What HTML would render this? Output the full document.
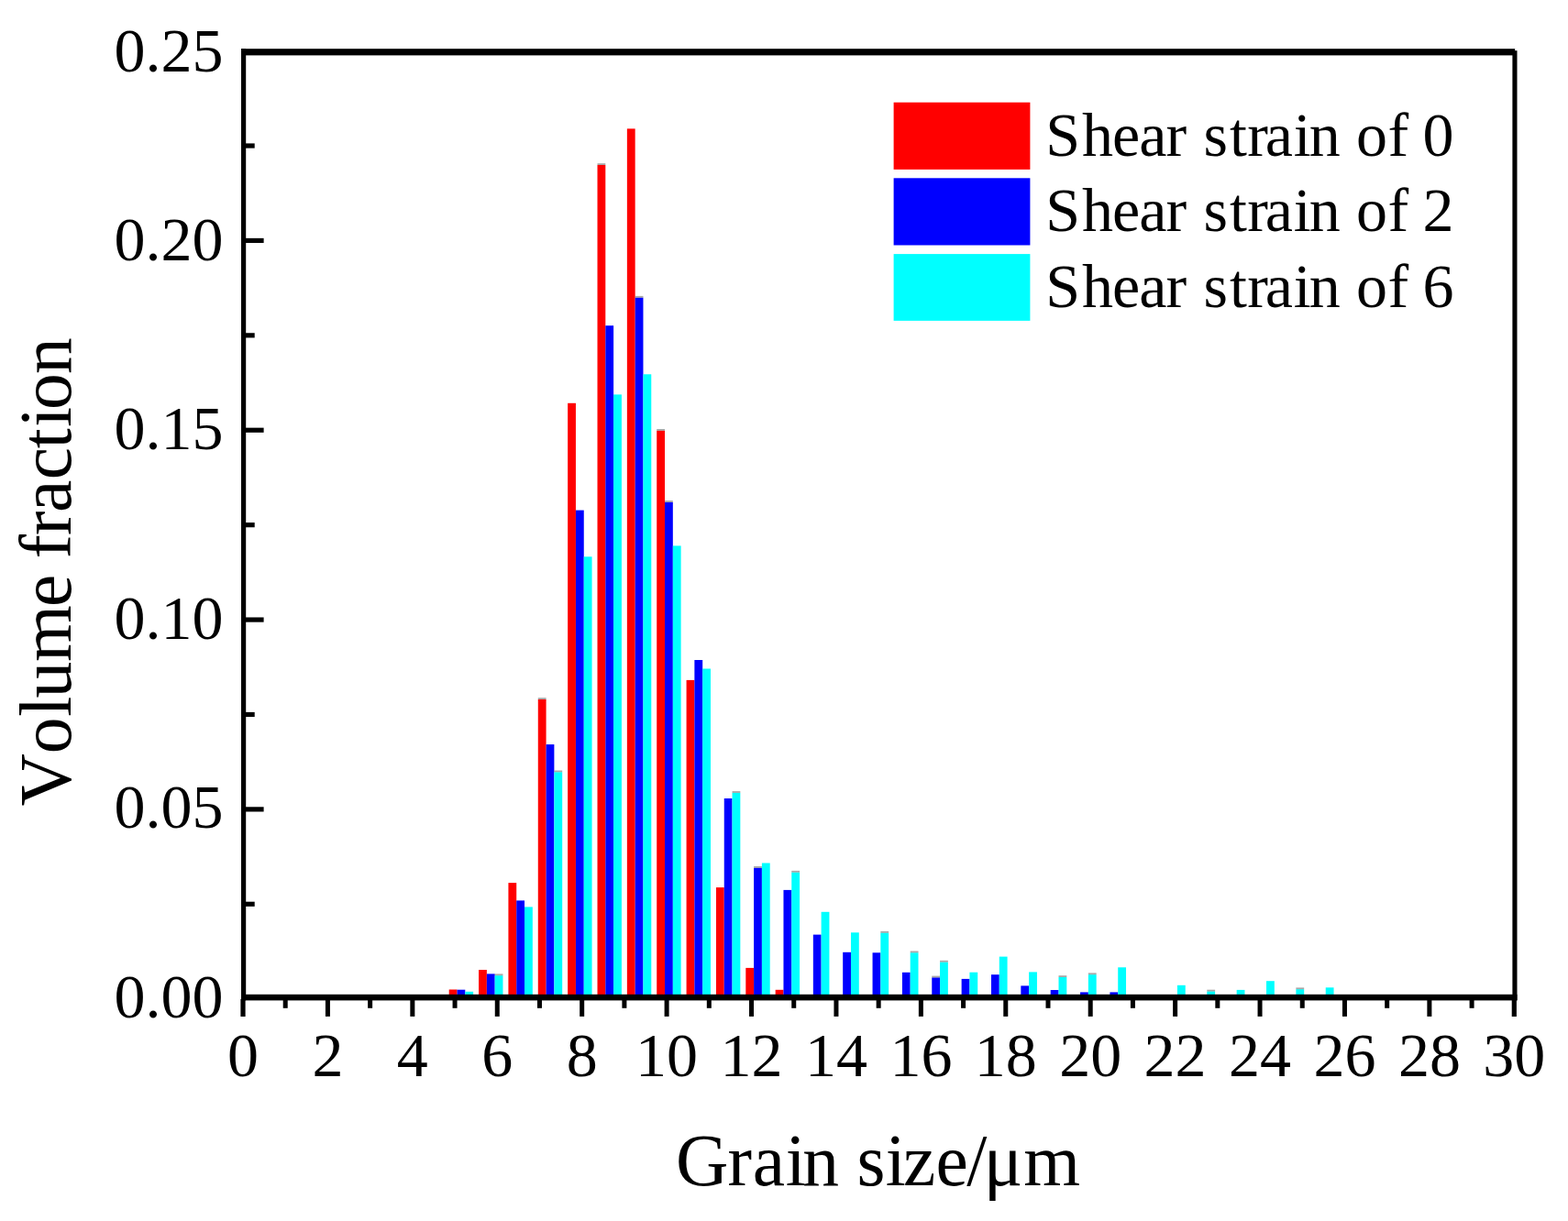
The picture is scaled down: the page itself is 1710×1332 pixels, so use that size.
<!DOCTYPE html>
<html><head><meta charset="utf-8"><title>Grain size distribution</title>
<style>html,body{margin:0;padding:0;background:#fff;}svg{display:block;filter:blur(0.5px);}</style></head>
<body><svg width="1710" height="1332" viewBox="0 0 1710 1332">
<rect width="1710" height="1332" fill="#fff"/>
<rect x="489.70" y="1079.50" width="8.80" height="7.50" fill="#ff0000"/>
<rect x="498.50" y="1079.70" width="8.80" height="7.30" fill="#0000ff"/>
<rect x="507.30" y="1081.80" width="8.80" height="5.20" fill="#00ffff"/>
<rect x="522.06" y="1058.00" width="8.80" height="29.00" fill="#ff0000"/>
<rect x="530.86" y="1062.40" width="8.80" height="24.60" fill="#0000ff"/>
<rect x="539.66" y="1064.20" width="8.80" height="22.80" fill="#00ffff"/>
<rect x="539.66" y="1062.40" width="8.80" height="1.8" fill="#6e6e6e" fill-opacity="0.6"/>
<rect x="554.42" y="963.10" width="8.80" height="123.90" fill="#ff0000"/>
<rect x="563.22" y="982.40" width="8.80" height="104.60" fill="#0000ff"/>
<rect x="572.02" y="989.40" width="8.80" height="97.60" fill="#00ffff"/>
<rect x="586.78" y="763.00" width="8.80" height="324.00" fill="#ff0000"/>
<rect x="586.78" y="761.20" width="8.80" height="1.8" fill="#6e6e6e" fill-opacity="0.6"/>
<rect x="595.58" y="812.10" width="8.80" height="274.90" fill="#0000ff"/>
<rect x="604.38" y="842.30" width="8.80" height="244.70" fill="#00ffff"/>
<rect x="604.38" y="840.50" width="8.80" height="1.8" fill="#6e6e6e" fill-opacity="0.6"/>
<rect x="619.14" y="439.80" width="8.80" height="647.20" fill="#ff0000"/>
<rect x="627.94" y="556.60" width="8.80" height="530.40" fill="#0000ff"/>
<rect x="636.74" y="607.30" width="8.80" height="479.70" fill="#00ffff"/>
<rect x="651.50" y="180.00" width="8.80" height="907.00" fill="#ff0000"/>
<rect x="651.50" y="178.20" width="8.80" height="1.8" fill="#6e6e6e" fill-opacity="0.6"/>
<rect x="660.30" y="355.20" width="8.80" height="731.80" fill="#0000ff"/>
<rect x="669.10" y="430.40" width="8.80" height="656.60" fill="#00ffff"/>
<rect x="683.86" y="140.40" width="8.80" height="946.60" fill="#ff0000"/>
<rect x="692.66" y="324.70" width="8.80" height="762.30" fill="#0000ff"/>
<rect x="692.66" y="322.90" width="8.80" height="1.8" fill="#6e6e6e" fill-opacity="0.6"/>
<rect x="701.46" y="408.30" width="8.80" height="678.70" fill="#00ffff"/>
<rect x="716.22" y="469.80" width="8.80" height="617.20" fill="#ff0000"/>
<rect x="716.22" y="468.00" width="8.80" height="1.8" fill="#6e6e6e" fill-opacity="0.6"/>
<rect x="725.02" y="547.90" width="8.80" height="539.10" fill="#0000ff"/>
<rect x="725.02" y="546.10" width="8.80" height="1.8" fill="#6e6e6e" fill-opacity="0.6"/>
<rect x="733.82" y="595.40" width="8.80" height="491.60" fill="#00ffff"/>
<rect x="748.58" y="741.90" width="8.80" height="345.10" fill="#ff0000"/>
<rect x="757.38" y="720.00" width="8.80" height="367.00" fill="#0000ff"/>
<rect x="766.18" y="729.50" width="8.80" height="357.50" fill="#00ffff"/>
<rect x="780.94" y="968.10" width="8.80" height="118.90" fill="#ff0000"/>
<rect x="789.74" y="871.00" width="8.80" height="216.00" fill="#0000ff"/>
<rect x="798.54" y="864.90" width="8.80" height="222.10" fill="#00ffff"/>
<rect x="798.54" y="863.10" width="8.80" height="1.8" fill="#6e6e6e" fill-opacity="0.6"/>
<rect x="813.30" y="1055.90" width="8.80" height="31.10" fill="#ff0000"/>
<rect x="822.10" y="946.80" width="8.80" height="140.20" fill="#0000ff"/>
<rect x="822.10" y="945.00" width="8.80" height="1.8" fill="#6e6e6e" fill-opacity="0.6"/>
<rect x="830.90" y="941.50" width="8.80" height="145.50" fill="#00ffff"/>
<rect x="845.66" y="1079.80" width="8.80" height="7.20" fill="#ff0000"/>
<rect x="854.46" y="970.90" width="8.80" height="116.10" fill="#0000ff"/>
<rect x="863.26" y="951.70" width="8.80" height="135.30" fill="#00ffff"/>
<rect x="863.26" y="949.90" width="8.80" height="1.8" fill="#6e6e6e" fill-opacity="0.6"/>
<rect x="886.82" y="1019.60" width="8.80" height="67.40" fill="#0000ff"/>
<rect x="895.62" y="994.80" width="8.80" height="92.20" fill="#00ffff"/>
<rect x="919.18" y="1038.80" width="8.80" height="48.20" fill="#0000ff"/>
<rect x="927.98" y="1017.30" width="8.80" height="69.70" fill="#00ffff"/>
<rect x="951.54" y="1039.30" width="8.80" height="47.70" fill="#0000ff"/>
<rect x="960.34" y="1017.70" width="8.80" height="69.30" fill="#00ffff"/>
<rect x="960.34" y="1015.90" width="8.80" height="1.8" fill="#6e6e6e" fill-opacity="0.6"/>
<rect x="983.90" y="1060.80" width="8.80" height="26.20" fill="#0000ff"/>
<rect x="992.70" y="1039.30" width="8.80" height="47.70" fill="#00ffff"/>
<rect x="992.70" y="1037.50" width="8.80" height="1.8" fill="#6e6e6e" fill-opacity="0.6"/>
<rect x="1016.26" y="1066.40" width="8.80" height="20.60" fill="#0000ff"/>
<rect x="1016.26" y="1064.60" width="8.80" height="1.8" fill="#6e6e6e" fill-opacity="0.6"/>
<rect x="1025.06" y="1049.60" width="8.80" height="37.40" fill="#00ffff"/>
<rect x="1025.06" y="1047.80" width="8.80" height="1.8" fill="#6e6e6e" fill-opacity="0.6"/>
<rect x="1048.62" y="1067.90" width="8.80" height="19.10" fill="#0000ff"/>
<rect x="1057.42" y="1060.70" width="8.80" height="26.30" fill="#00ffff"/>
<rect x="1080.98" y="1063.20" width="8.80" height="23.80" fill="#0000ff"/>
<rect x="1089.78" y="1043.60" width="8.80" height="43.40" fill="#00ffff"/>
<rect x="1113.34" y="1075.40" width="8.80" height="11.60" fill="#0000ff"/>
<rect x="1122.14" y="1060.40" width="8.80" height="26.60" fill="#00ffff"/>
<rect x="1145.70" y="1080.00" width="8.80" height="7.00" fill="#0000ff"/>
<rect x="1154.50" y="1066.00" width="8.80" height="21.00" fill="#00ffff"/>
<rect x="1154.50" y="1064.20" width="8.80" height="1.8" fill="#6e6e6e" fill-opacity="0.6"/>
<rect x="1178.06" y="1082.40" width="8.80" height="4.60" fill="#0000ff"/>
<rect x="1186.86" y="1063.20" width="8.80" height="23.80" fill="#00ffff"/>
<rect x="1186.86" y="1061.40" width="8.80" height="1.8" fill="#6e6e6e" fill-opacity="0.6"/>
<rect x="1210.42" y="1082.40" width="8.80" height="4.60" fill="#0000ff"/>
<rect x="1219.22" y="1055.30" width="8.80" height="31.70" fill="#00ffff"/>
<rect x="1283.94" y="1074.80" width="8.80" height="12.20" fill="#00ffff"/>
<rect x="1316.30" y="1081.50" width="8.80" height="5.50" fill="#00ffff"/>
<rect x="1316.30" y="1079.70" width="8.80" height="1.8" fill="#6e6e6e" fill-opacity="0.6"/>
<rect x="1348.66" y="1079.90" width="8.80" height="7.10" fill="#00ffff"/>
<rect x="1381.02" y="1070.20" width="8.80" height="16.80" fill="#00ffff"/>
<rect x="1413.38" y="1079.20" width="8.80" height="7.80" fill="#00ffff"/>
<rect x="1413.38" y="1077.40" width="8.80" height="1.8" fill="#6e6e6e" fill-opacity="0.6"/>
<rect x="1445.74" y="1077.30" width="8.80" height="9.70" fill="#00ffff"/>
<rect x="263" y="53.2" width="1389.2" height="7.2" fill="#000"/>
<rect x="263" y="1084.8" width="1391.5" height="6.6" fill="#000"/>
<rect x="263" y="53.2" width="5.2" height="1038.2" fill="#000"/>
<rect x="1649.4" y="55.2" width="5.1" height="1036.2" fill="#000"/>
<rect x="262.40" y="1090" width="5.2" height="19" fill="#000"/>
<rect x="308.71" y="1090" width="5.0" height="9.80" fill="#000"/>
<rect x="354.92" y="1090" width="5.0" height="18.90" fill="#000"/>
<rect x="401.13" y="1090" width="5.0" height="9.80" fill="#000"/>
<rect x="447.34" y="1090" width="5.0" height="18.90" fill="#000"/>
<rect x="493.55" y="1090" width="5.0" height="9.80" fill="#000"/>
<rect x="539.76" y="1090" width="5.0" height="18.90" fill="#000"/>
<rect x="585.97" y="1090" width="5.0" height="9.80" fill="#000"/>
<rect x="632.18" y="1090" width="5.0" height="18.90" fill="#000"/>
<rect x="678.39" y="1090" width="5.0" height="9.80" fill="#000"/>
<rect x="724.60" y="1090" width="5.0" height="18.90" fill="#000"/>
<rect x="770.81" y="1090" width="5.0" height="9.80" fill="#000"/>
<rect x="817.02" y="1090" width="5.0" height="18.90" fill="#000"/>
<rect x="863.23" y="1090" width="5.0" height="9.80" fill="#000"/>
<rect x="909.44" y="1090" width="5.0" height="18.90" fill="#000"/>
<rect x="955.65" y="1090" width="5.0" height="9.80" fill="#000"/>
<rect x="1001.86" y="1090" width="5.0" height="18.90" fill="#000"/>
<rect x="1048.07" y="1090" width="5.0" height="9.80" fill="#000"/>
<rect x="1094.28" y="1090" width="5.0" height="18.90" fill="#000"/>
<rect x="1140.49" y="1090" width="5.0" height="9.80" fill="#000"/>
<rect x="1186.70" y="1090" width="5.0" height="18.90" fill="#000"/>
<rect x="1232.91" y="1090" width="5.0" height="9.80" fill="#000"/>
<rect x="1279.12" y="1090" width="5.0" height="18.90" fill="#000"/>
<rect x="1325.33" y="1090" width="5.0" height="9.80" fill="#000"/>
<rect x="1371.54" y="1090" width="5.0" height="18.90" fill="#000"/>
<rect x="1417.75" y="1090" width="5.0" height="9.80" fill="#000"/>
<rect x="1463.96" y="1090" width="5.0" height="18.90" fill="#000"/>
<rect x="1510.17" y="1090" width="5.0" height="9.80" fill="#000"/>
<rect x="1556.38" y="1090" width="5.0" height="18.90" fill="#000"/>
<rect x="1602.59" y="1090" width="5.0" height="9.80" fill="#000"/>
<rect x="1648.70" y="1090" width="5.2" height="19" fill="#000"/>
<rect x="267" y="983.69" width="10.70" height="5.2" fill="#000"/>
<rect x="267" y="880.28" width="20.60" height="5.2" fill="#000"/>
<rect x="267" y="776.88" width="10.70" height="5.2" fill="#000"/>
<rect x="267" y="673.47" width="20.60" height="5.2" fill="#000"/>
<rect x="267" y="570.06" width="10.70" height="5.2" fill="#000"/>
<rect x="267" y="466.65" width="20.60" height="5.2" fill="#000"/>
<rect x="267" y="363.25" width="10.70" height="5.2" fill="#000"/>
<rect x="267" y="259.84" width="20.60" height="5.2" fill="#000"/>
<rect x="267" y="156.43" width="10.70" height="5.2" fill="#000"/>
<rect x="974.6" y="111.7" width="148.8" height="73.2" fill="#ff0000"/>
<rect x="974.6" y="194.3" width="148.8" height="73.2" fill="#0000ff"/>
<rect x="974.6" y="277.1" width="148.8" height="72.8" fill="#00ffff"/>
<text x="243.5" y="1109.5" font-size="68" text-anchor="end" font-family="Liberation Serif, Times New Roman, serif">0.00</text>
<text x="243.5" y="903.1" font-size="68" text-anchor="end" font-family="Liberation Serif, Times New Roman, serif">0.05</text>
<text x="243.5" y="696.7" font-size="68" text-anchor="end" font-family="Liberation Serif, Times New Roman, serif">0.10</text>
<text x="243.5" y="490.3" font-size="68" text-anchor="end" font-family="Liberation Serif, Times New Roman, serif">0.15</text>
<text x="243.5" y="283.9" font-size="68" text-anchor="end" font-family="Liberation Serif, Times New Roman, serif">0.20</text>
<text x="243.5" y="77.5" font-size="68" text-anchor="end" font-family="Liberation Serif, Times New Roman, serif">0.25</text>
<text x="265.0" y="1174.4" font-size="68" text-anchor="middle" font-family="Liberation Serif, Times New Roman, serif">0</text>
<text x="357.4" y="1174.4" font-size="68" text-anchor="middle" font-family="Liberation Serif, Times New Roman, serif">2</text>
<text x="449.8" y="1174.4" font-size="68" text-anchor="middle" font-family="Liberation Serif, Times New Roman, serif">4</text>
<text x="542.3" y="1174.4" font-size="68" text-anchor="middle" font-family="Liberation Serif, Times New Roman, serif">6</text>
<text x="634.7" y="1174.4" font-size="68" text-anchor="middle" font-family="Liberation Serif, Times New Roman, serif">8</text>
<text x="727.1" y="1174.4" font-size="68" text-anchor="middle" font-family="Liberation Serif, Times New Roman, serif">10</text>
<text x="819.5" y="1174.4" font-size="68" text-anchor="middle" font-family="Liberation Serif, Times New Roman, serif">12</text>
<text x="911.9" y="1174.4" font-size="68" text-anchor="middle" font-family="Liberation Serif, Times New Roman, serif">14</text>
<text x="1004.4" y="1174.4" font-size="68" text-anchor="middle" font-family="Liberation Serif, Times New Roman, serif">16</text>
<text x="1096.8" y="1174.4" font-size="68" text-anchor="middle" font-family="Liberation Serif, Times New Roman, serif">18</text>
<text x="1189.2" y="1174.4" font-size="68" text-anchor="middle" font-family="Liberation Serif, Times New Roman, serif">20</text>
<text x="1281.6" y="1174.4" font-size="68" text-anchor="middle" font-family="Liberation Serif, Times New Roman, serif">22</text>
<text x="1374.0" y="1174.4" font-size="68" text-anchor="middle" font-family="Liberation Serif, Times New Roman, serif">24</text>
<text x="1466.5" y="1174.4" font-size="68" text-anchor="middle" font-family="Liberation Serif, Times New Roman, serif">26</text>
<text x="1558.9" y="1174.4" font-size="68" text-anchor="middle" font-family="Liberation Serif, Times New Roman, serif">28</text>
<text x="1651.3" y="1174.4" font-size="68" text-anchor="middle" font-family="Liberation Serif, Times New Roman, serif">30</text>
<text x="1140.3 1180.0 1213.0 1242.2 1271.5 1294.1 1312.5 1341.1 1360.2 1379.7 1410.7 1427.8 1461.8 1478.9 1513.5 1536.1 1551.6" y="169.5" font-size="68" font-family="Liberation Serif, Times New Roman, serif">Shear strain of 0</text>
<text x="1140.3 1180.0 1213.0 1242.2 1271.5 1294.1 1312.5 1341.1 1360.2 1379.7 1410.7 1427.8 1461.8 1478.9 1513.5 1536.1 1551.6" y="252.2" font-size="68" font-family="Liberation Serif, Times New Roman, serif">Shear strain of 2</text>
<text x="1140.3 1180.0 1213.0 1242.2 1271.5 1294.1 1312.5 1341.1 1360.2 1379.7 1410.7 1427.8 1461.8 1478.9 1513.5 1536.1 1551.6" y="334.8" font-size="68" font-family="Liberation Serif, Times New Roman, serif">Shear strain of 6</text>
<text transform="translate(77 0) rotate(-90)" x="-879.5 -822.2 -781.8 -761.5 -722.1 -662.0 -626.7 -609.6 -584.0 -559.1 -523.3 -489.2 -466.0 -447.1 -408.0" y="0" font-size="79.5" font-family="Liberation Serif, Times New Roman, serif">Volume fraction</text>
<text x="736.9 793.6 820.7 856.8 875.3 914.8 934.6 965.7 985.0 1020.4 1054.3 1072.8 1116.3" y="1292.5" font-size="79.5" font-family="Liberation Serif, Times New Roman, serif">Grain size/μm</text>
</svg></body></html>
